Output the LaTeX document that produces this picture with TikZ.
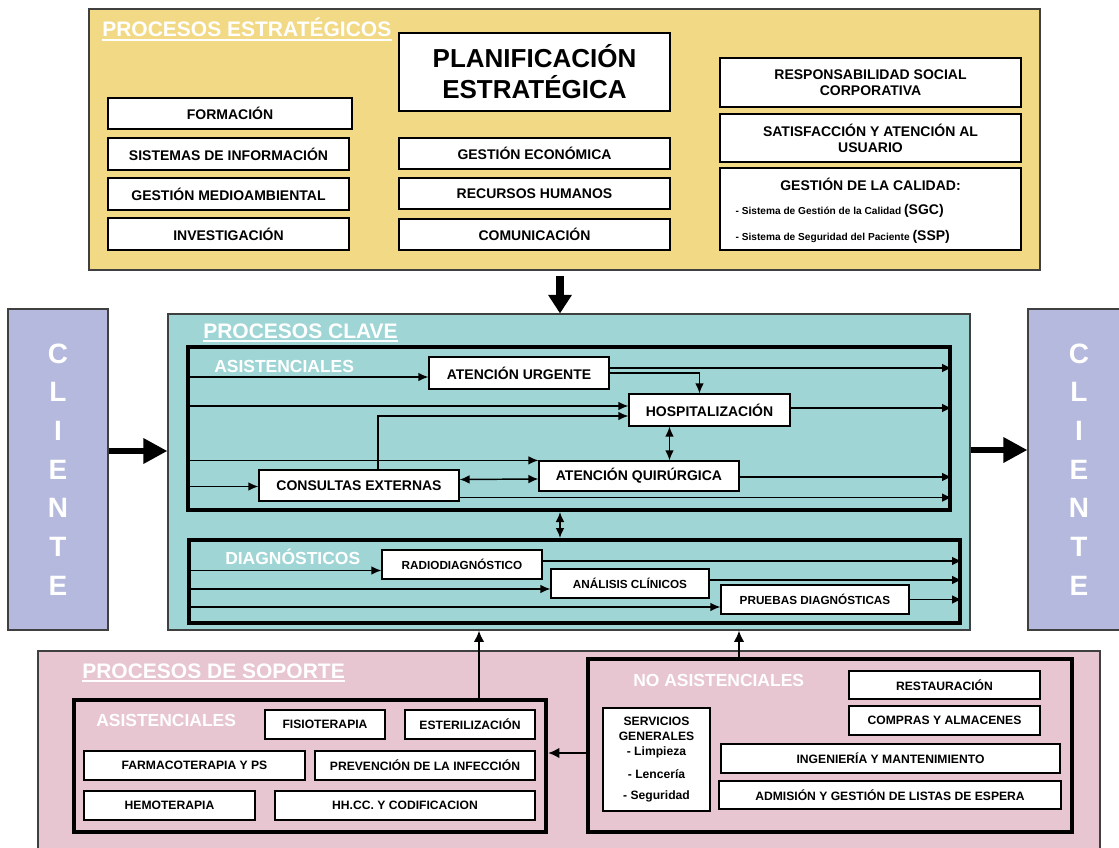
\documentclass[tikz,border=0pt]{standalone}
\usepackage{fontspec}
\setmainfont{Liberation Sans}
\usetikzlibrary{arrows.meta,calc}
\definecolor{yel}{RGB}{242,217,133}
\definecolor{tealb}{RGB}{159,214,213}
\definecolor{lav}{RGB}{180,185,221}
\definecolor{pnk}{RGB}{231,198,209}
\newcommand\mkbox[7][]{\node[wbox,minimum width={(#5-#3)*0.75pt},minimum height={(#6-#4)*0.75pt},#1] (#2) at ({(#3+#5)/2},{(#4+#6)/2}) {#7};}
\newcommand\fs[2]{\fontsize{#1}{#2}\selectfont}
\begin{document}
\begin{tikzpicture}[x=0.75pt,y=-0.75pt,
  wbox/.style={draw=black,line width=0.9pt,fill=white,inner sep=0pt,align=center,font=\bfseries\fs{10.5}{12}},
  region/.style={draw=black!75,line width=0.8pt},
  thickbox/.style={draw=black,line width=3pt,fill=none},
  ttl/.style={text=white,font=\bfseries\fs{15.75}{18},inner sep=0pt,anchor=base west},
  sub/.style={text=white,font=\bfseries\fs{13.1}{15},inner sep=0pt,anchor=base west},
  ul/.style={white,line width=1.3pt},
  tip/.tip={Latex[length=7.5pt,width=6.5pt]},
  arr/.style={line width=1.1pt,-tip},
  darr/.style={line width=1.1pt,tip-tip},
  sarr/.style={line width=1.8pt,-{Latex[length=8.5pt,width=8pt]}},
  big/.style={line width=4.8pt,-{Triangle[length=18pt,width=18pt]}},
  cli/.style={region,fill=lav,text=white,font=\bfseries\fs{21}{29}},
  sm/.style={font=\bfseries\fs{9.1}{11}},
  dg/.style={font=\bfseries\fs{8.8}{11}}
]
\useasboundingbox (0,0) rectangle (1119,848);

% ---------- regions ----------
\mkbox[region,fill=yel]{Y}{89}{9}{1040}{270}{}
\mkbox[region,fill=tealb]{T}{168}{314}{970}{630}{}
\mkbox[region,fill=pnk]{P}{38}{651}{1100}{852}{}
\mkbox[cli]{cl}{8}{309}{108}{630}{C\\L\\I\\E\\N\\T\\E}
\mkbox[cli,xshift=-0.75pt]{cr}{1029}{309}{1131}{630}{C\\L\\I\\E\\N\\T\\E}

% ---------- estrategicos ----------
\node[ttl] (tY) at (102,37) {PROCESOS ESTRATÉGICOS};
\draw[ul] ($(tY.base west)+(0,3)$) -- ($(tY.base east)+(0,3)$);
\mkbox[font=\bfseries\fs{19.5}{23.3}]{plan}{399}{33}{670}{111}{PLANIFICACIÓN\\ESTRATÉGICA}
\mkbox{form}{108}{98}{352}{129}{FORMACIÓN}
\mkbox{sist}{108}{138}{349}{170}{SISTEMAS DE INFORMACIÓN}
\mkbox{medio}{108}{178}{349}{210}{GESTIÓN MEDIOAMBIENTAL}
\mkbox{inv}{108}{218}{349}{250}{INVESTIGACIÓN}
\mkbox{econ}{399}{138}{670}{169}{GESTIÓN ECONÓMICA}
\mkbox{rrhh}{399}{178}{670}{209}{RECURSOS HUMANOS}
\mkbox{com}{399}{219}{670}{250}{COMUNICACIÓN}
\mkbox{resp}{720}{58}{1021}{107}{RESPONSABILIDAD SOCIAL\\CORPORATIVA}
\mkbox{sat}{720}{114}{1021}{162}{SATISFACCIÓN Y ATENCIÓN AL\\USUARIO}
\mkbox{cal}{720}{168}{1021}{250}{}
\node[font=\bfseries\fs{10.5}{12},inner sep=0pt] (calt) at ($(cal.north)+(0,17)$) {GESTIÓN DE LA CALIDAD:};
\node[anchor=west,inner sep=0pt] (cal1) at ($(cal.west)+(16,2)$) {\bfseries\fs{7.6}{9}- Sistema de Gestión de la Calidad \fs{10.5}{12}(SGC)};
\node[anchor=west,inner sep=0pt] (cal2) at ($(cal.west)+(16,28)$) {\bfseries\fs{7.6}{9}- Sistema de Seguridad del Paciente \fs{10.5}{12}(SSP)};

% ---------- clave ----------
\node[ttl] (tT) at (203,338) {PROCESOS CLAVE};
\draw[ul] ($(tT.base west)+(0,3)$) -- ($(tT.base east)+(0,3)$);
\mkbox[thickbox]{A}{188}{347}{950}{510}{}
\mkbox[thickbox]{D}{189}{540}{960}{623}{}
\node[sub] (tA) at (214,372) {ASISTENCIALES};
\node[sub] (tD) at (225,564) {DIAGNÓSTICOS};
\mkbox{au}{429}{357}{609}{389}{ATENCIÓN URGENTE}
\mkbox{hosp}{629}{394}{790}{426}{HOSPITALIZACIÓN}
\mkbox{aq}{539}{461}{739}{491}{ATENCIÓN QUIRÚRGICA}
\mkbox{cons}{259}{470}{459}{501}{CONSULTAS EXTERNAS}
\mkbox[dg]{radio}{382}{550}{542}{579}{RADIODIAGNÓSTICO}
\mkbox[dg]{ana}{551}{569}{709}{598}{ANÁLISIS CLÍNICOS}
\mkbox[dg]{pru}{721}{585}{909}{614}{PRUEBAS DIAGNÓSTICAS}

% asistenciales connectors
\draw[arr] ($(A.west |- au.west)+(0,4)$) -- ($(au.west)+(0,4)$);
\draw[arr] ($(A.west |- hosp.west)+(0,-4)$) -- ($(hosp.west)+(0,-4)$);
\draw[arr] ($(cons.north)+(19,0)$) |- ($(hosp.west)+(0,6)$);
\draw[arr] (A.west |- aq.north west) -- (aq.north west);
\draw[arr] ($(A.west |- cons.west)+(0,1)$) -- ($(cons.west)+(0,1)$);
\draw[darr] ($(cons.east)+(0,-6)$) -- ($(aq.west)+(0,3)$);
\draw[arr] ($(cons.south east)+(0,-4)$) -- ($(A.east |- cons.south east)+(0,-4)$);
\draw[arr] ($(au.east)+(0,-5)$) -- ($(A.east |- au.east)+(0,-5)$);
\draw[arr] (au.east) -| ($(hosp.north)+(-10,0)$);
\draw[arr] ($(hosp.east)+(0,-2)$) -- ($(A.east |- hosp.east)+(0,-2)$);
\coordinate (hq) at ($(hosp.south)+(-40,0)$);
\draw[darr] (hq) -- (hq |- aq.north);
\draw[arr] ($(aq.east)+(0,1)$) -- ($(A.east |- aq.east)+(0,1)$);
\coordinate (ad) at ($(A.south)+(-9,0)$);
\draw[darr] (ad) -- (ad |- D.north);

% diagnosticos connectors
\draw[arr] ($(D.west |- radio.west)+(0,6)$) -- ($(radio.west)+(0,6)$);
\draw[arr] ($(D.west |- ana.west)+(0,5.5)$) -- ($(ana.west)+(0,5.5)$);
\draw[arr] ($(D.west |- pru.west)+(0,7.5)$) -- ($(pru.west)+(0,7.5)$);
\draw[arr] ($(radio.east)+(0,-3.5)$) -- ($(D.east |- radio.east)+(0,-3.5)$);
\draw[arr] ($(ana.east)+(0,-3.5)$) -- ($(D.east |- ana.east)+(0,-3.5)$);
\draw[arr] (pru.east) -- (D.east |- pru.east);

% ---------- soporte ----------
\node[ttl] (tP) at (82,678) {PROCESOS DE SOPORTE};
\draw[ul] ($(tP.base west)+(0,3)$) -- ($(tP.base east)+(0,3)$);
\mkbox[thickbox]{SA}{74}{700}{546}{832}{}
\mkbox[thickbox]{NA}{588}{659}{1072}{832}{}
\node[sub] (tSA) at (96,726) {ASISTENCIALES};
\node[sub] (tNA) at (633,686) {NO ASISTENCIALES};
\mkbox[sm]{fisio}{265}{710}{385}{739}{FISIOTERAPIA}
\mkbox[sm]{est}{405}{710}{535}{739}{ESTERILIZACIÓN}
\mkbox[sm]{farma}{84}{751}{305}{780}{FARMACOTERAPIA Y PS}
\mkbox[sm]{prev}{315}{751}{535}{780}{PREVENCIÓN DE LA INFECCIÓN}
\mkbox[sm]{hemo}{84}{791}{255}{820}{HEMOTERAPIA}
\mkbox[sm]{hhcc}{275}{791}{535}{820}{HH.CC. Y CODIFICACION}
\mkbox[sm]{rest}{849}{671}{1040}{699}{RESTAURACIÓN}
\mkbox[sm]{compras}{849}{706}{1040}{735}{COMPRAS Y ALMACENES}
\mkbox[sm]{ing}{721}{744}{1060}{773}{INGENIERÍA Y MANTENIMIENTO}
\mkbox[sm]{adm}{719}{781}{1061}{809}{ADMISIÓN Y GESTIÓN DE LISTAS DE ESPERA}
\mkbox[font=\bfseries\fs{9.1}{11.25}]{serv}{603}{708}{710}{811}{SERVICIOS\\GENERALES\\- Limpieza\\[6.5pt]- Lencería\\[4.5pt]- Seguridad}

% ---------- big connectors ----------
\coordinate (ya) at ($(Y.south)+(-4.5,5)$);
\draw[line width=5.5pt,-{Triangle[length=14pt,width=17pt]}] (ya) -- (ya |- T.north);
\coordinate (ca) at ($(cl.east)+(0,-18.5)$);
\draw[big] (ca) -- (T.west |- ca);
\coordinate (cb) at ($(T.east)+(0,-22)$);
\draw[big] (cb) -- (cr.west |- cb);
\coordinate (sa) at ($(SA.north)+(169,0)$);
\draw[sarr] (sa) -- (sa |- T.south);
\coordinate (na) at ($(NA.north)+(-91,0)$);
\draw[sarr] (na) -- (na |- T.south);
\coordinate (ns) at ($(NA.west)+(0,7.5)$);
\draw[sarr] (ns) -- (SA.east |- ns);
\end{tikzpicture}
\end{document}
